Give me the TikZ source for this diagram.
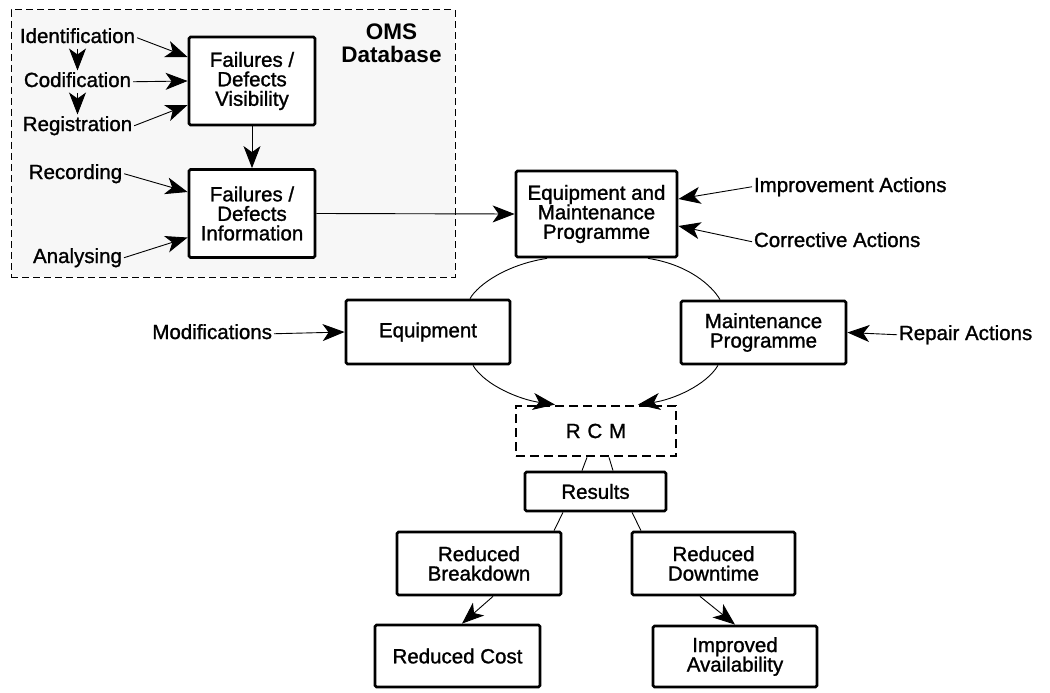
\documentclass[tikz,border=0pt]{standalone}
\usepackage{fontspec}
\setmainfont{Liberation Sans}[UprightFeatures={FakeBold=1.2}]
\usetikzlibrary{arrows.meta,calc}
\begin{document}
\begin{tikzpicture}[x=1pt,y=-1pt,
  every node/.style={font=\fontsize{20.5}{19.5}\selectfont, inner sep=0pt},
  box/.style={draw, line width=2.8pt, fill=white, rounded corners=1.5pt, align=center},
  lbl/.style={text height=14.5pt, text depth=4pt, outer sep=2pt},
  link/.style={line width=0.9pt},
  arr/.style={link, -{Stealth[length=22pt,width=17pt,inset=6pt]}},
  omsbox/.style={draw, line width=1pt, dash pattern=on 7pt off 4pt, fill=black!3},
  rcmbox/.style={draw, line width=2.8pt, dash pattern=on 9pt off 5pt, fill=white},
]
\useasboundingbox (0,0) rectangle (1050,693);

% OMS database frame
\node[omsbox, minimum width=444pt, minimum height=267pt] (oms) at (233,143.5) {};
\node[font=\fontsize{22.5}{23}\selectfont\bfseries, align=center] (omst) at (391.5,43.5) {OMS\\Database};

% boxes
\node[box, minimum width=126pt, minimum height=88pt] (fdv) at (252,81) {Failures /\\Defects\\Visibility};
\node[box, minimum width=126pt, minimum height=88pt] (fdi) at (252,213.5) {Failures /\\Defects\\Information};
\node[box, minimum width=161pt, minimum height=86pt] (emp) at (596.5,214) {Equipment and\\Maintenance\\Programme};
\node[box, minimum width=164pt, minimum height=64pt] (equip) at (428,332) {Equipment};
\node[box, minimum width=165pt, minimum height=63pt] (maint) at (763.5,332.5) {Maintenance\\Programme};
\node[rcmbox, minimum width=160pt, minimum height=50pt] (rcm) at (596,431) {R\,\,C\,\,M};
\node[box, minimum width=141pt, minimum height=39pt] (res) at (595.5,491.5) {Results};
\node[box, minimum width=164pt, minimum height=63pt] (rb) at (479,563.5) {Reduced\\Breakdown};
\node[box, minimum width=163pt, minimum height=63pt] (rd) at (713.5,563.5) {Reduced\\Downtime};
\node[box, minimum width=165pt, minimum height=62pt] (rc) at (457.5,656) {Reduced Cost};
\node[box, minimum width=164pt, minimum height=61pt] (ia) at (735,656.5) {Improved\\Availability};

% input labels
\node[lbl, anchor=base] (ident) at (77.5,43) {Identification};
\node[lbl, anchor=base] (codif) at (77.5,87) {Codification};
\node[lbl, anchor=base] (regis) at (77.5,131) {Registration};
\node[lbl, anchor=base] (recor) at (75.5,179) {Recording};
\node[lbl, anchor=base] (analy) at (77.5,263) {Analysing};
\node[lbl, anchor=base east] (modif) at (274,339) {Modifications};
\node[lbl, anchor=base west] (impr) at (752,192) {Improvement Actions};
\node[lbl, anchor=base west] (corr) at (752,247) {Corrective Actions};
\node[lbl, anchor=base west] (rep) at (897,340) {Repair Actions};

% arrows inside the database
\draw[arr] (ident.south) -- (codif.north);
\draw[arr] (codif.south) -- (regis.north);
\draw[arr] (ident.east) -- ([yshift=24pt]fdv.west);
\draw[arr] (codif.east) -- (fdv.west);
\draw[arr] (regis.east) -- ([yshift=-24pt]fdv.west);
\draw[arr] (recor.east) -- ([yshift=21.5pt]fdi.west);
\draw[arr] (analy.east) -- ([yshift=-24pt]fdi.west);
\draw[arr] (fdv.south) -- (fdi.north);
\draw[arr] (fdi.east) -- (emp.west);

% actions
\draw[arr] (impr.west) -- ([yshift=15pt]emp.east);
\draw[arr] (corr.west) -- ([yshift=-12pt]emp.east);
\draw[arr] (modif.east) -- (equip.west);
\draw[arr] (rep.west) -- (maint.east);

% improvement loop
\draw[link] ([xshift=-49.5pt]emp.south) .. controls +(-40,6) and +(8,-14) .. ([xshift=42pt]equip.north);
\draw[link] ([xshift=51.5pt]emp.south) .. controls +(40,6) and +(-8,-14) .. ([xshift=-43.5pt]maint.north);
\draw[arr] ([xshift=45pt]equip.south) .. controls +(12,20) and +(-35,-5) .. ([xshift=-41pt]rcm.north);
\draw[arr] ([xshift=-45.5pt]maint.south) .. controls +(-12,20) and +(35,-5) .. ([xshift=42pt]rcm.north);

% results
\draw[link] ([xshift=-9pt]rcm.south) -- ([xshift=-13.5pt]res.north);
\draw[link] ([xshift=13pt]rcm.south) -- ([xshift=17.5pt]res.north);
\draw[link] ([xshift=-32.5pt]res.south) -- ([xshift=75pt]rb.north);
\draw[link] ([xshift=36.5pt]res.south) -- ([xshift=-72.5pt]rd.north);
\draw[arr] ([xshift=14pt]rb.south) -- ([xshift=4.5pt]rc.north);
\draw[arr] ([xshift=-13.5pt]rd.south) -- (ia.north);
\end{tikzpicture}
\end{document}
